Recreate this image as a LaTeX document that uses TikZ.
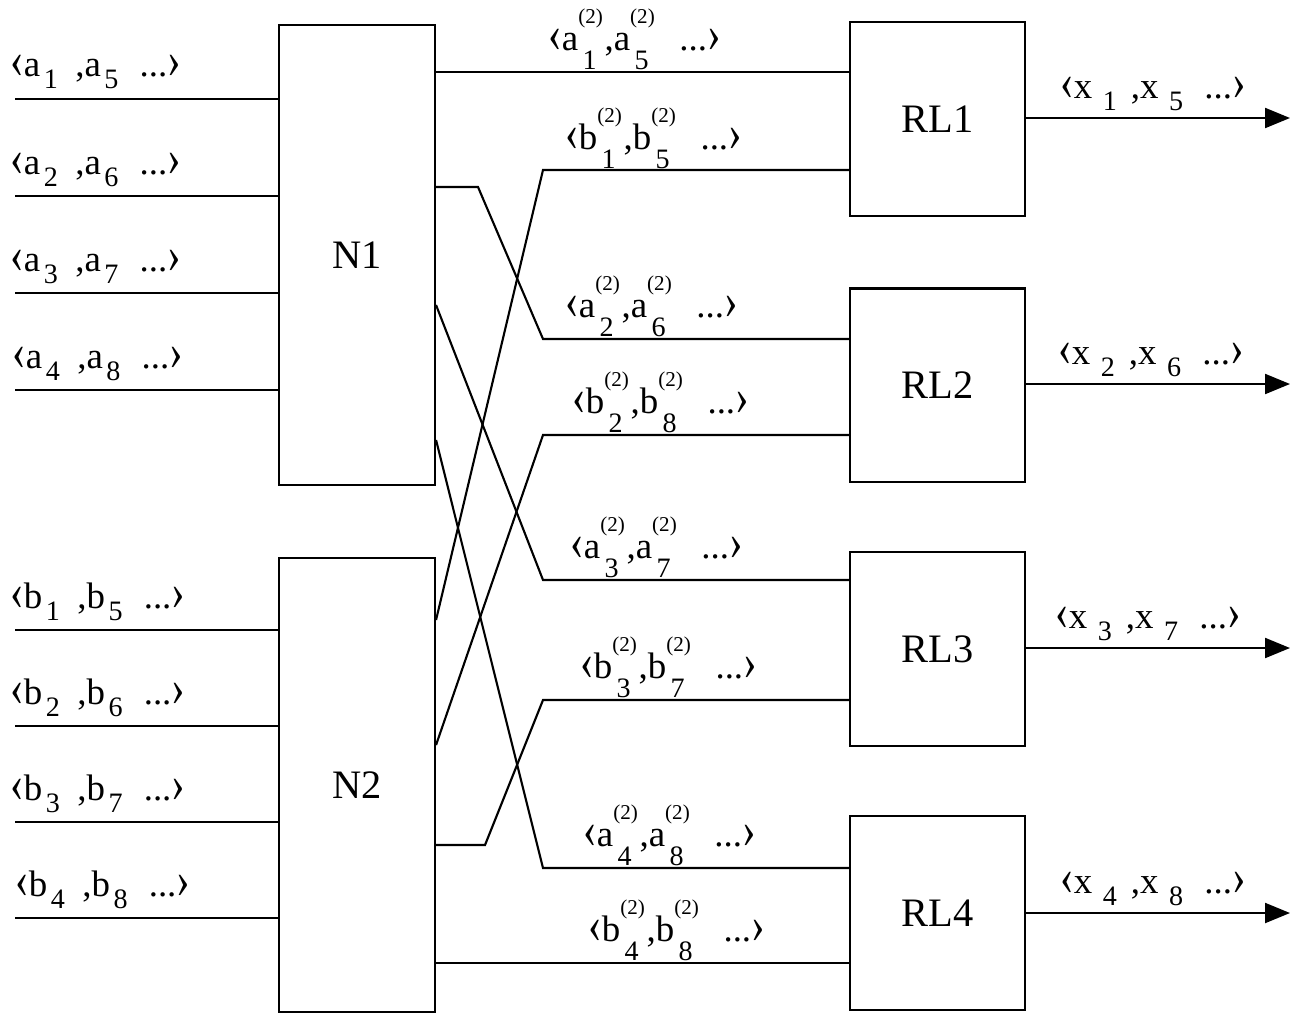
\documentclass[tikz,border=0pt]{standalone}
\usepackage{fontspec}
\setmainfont{Liberation Serif}
\usetikzlibrary{arrows.meta}
\newcommand{\subfont}{\fontsize{16}{16}\selectfont}
\newcommand{\supfont}{\fontsize{12}{12}\selectfont}
\newcommand{\lbr}{\raisebox{-1pt}{\scalebox{1.1}[1.45]{‹}}}
\newcommand{\rbr}{\raisebox{-1pt}{\scalebox{1.1}[1.45]{›}}}
\newcommand{\lowidx}[1]{\hspace{2pt}\raisebox{-7pt}{\subfont #1}}
\newcommand{\hiloidx}[1]{\rlap{\raisebox{15pt}{\supfont(2)}}\hbox to 13pt{\hss\raisebox{-11pt}{\subfont #1}\hss}}
\newcommand{\inseq}[3]{\lbr#1\lowidx{#2}\hspace{10pt},#1\lowidx{#3}\hspace{12pt}...\rbr}
\newcommand{\midseq}[3]{\lbr#1\hiloidx{#2}\hspace{2pt},#1\hiloidx{#3}\hspace{15pt}...\rbr}
\newcommand{\outseq}[3]{\lbr#1\hspace{4pt}\lowidx{#2}\hspace{8pt},#1\hspace{4pt}\lowidx{#3}\hspace{12pt}...\rbr}
\tikzstyle{nbox} = [rectangle, draw, line width=1.2pt, minimum width=3.12cm,
    font=\fontsize{23}{23}\selectfont]
\tikzstyle{rbox} = [rectangle, draw, line width=1.2pt, minimum width=3.5cm,
    minimum height=3.88cm, font=\fontsize{23}{23}\selectfont]
\tikzstyle{wire} = [draw, line width=1.2pt]
\tikzstyle{arr} = [draw, line width=1.2pt, -{Triangle[length=0.5cm,width=0.4cm]}]
\tikzstyle{lab} = [anchor=base west, inner sep=0pt, font=\fontsize{21}{21}\selectfont]
\begin{document}
\begin{tikzpicture}[x=0.02cm,y=-0.02cm]
    \useasboundingbox (0,0) rectangle (1290,1014);
    % Place nodes
    \node [nbox, minimum height=9.2cm] (N1) at (357,255) {N1};
    \node [nbox, minimum height=9.08cm, below of=N1, node distance=10.6cm] (N2) {N2};
    \node [rbox] (RL1) at (937.5,119) {RL1};
    \node [rbox, below of=RL1, node distance=5.33cm] (RL2) {RL2};
    \node [rbox, below of=RL2, node distance=5.28cm] (RL3) {RL3};
    \node [rbox, below of=RL3, node distance=5.27cm] (RL4) {RL4};
    % Input ends
    \coordinate (ina1) at (15,99);
    \coordinate (ina2) at (15,196);
    \coordinate (ina3) at (15,293);
    \coordinate (ina4) at (15,390);
    \coordinate (inb1) at (15,630);
    \coordinate (inb2) at (15,726);
    \coordinate (inb3) at (15,822);
    \coordinate (inb4) at (15,918);
    % Output ends
    \coordinate (outx1) at (1290,118);
    \coordinate (outx2) at (1290,384);
    \coordinate (outx3) at (1290,648);
    \coordinate (outx4) at (1290,913);
    % Draw edges
    \path [wire] (ina1) -- (ina1 -| N1.west);
    \path [wire] (ina2) -- (ina2 -| N1.west);
    \path [wire] (ina3) -- (ina3 -| N1.west);
    \path [wire] (ina4) -- (ina4 -| N1.west);
    \path [wire] (inb1) -- (inb1 -| N2.west);
    \path [wire] (inb2) -- (inb2 -| N2.west);
    \path [wire] (inb3) -- (inb3 -| N2.west);
    \path [wire] (inb4) -- (inb4 -| N2.west);
    \path [wire] (N1.east |- 0,72) -- (RL1.west |- 0,72);
    \path [wire] (N2.east |- 0,620) -- (543,170) -- (RL1.west |- 0,170);
    \path [wire] (N1.east |- 0,187) -- (478,187) -- (543,339) -- (RL2.west |- 0,339);
    \path [wire] (N2.east |- 0,745) -- (543,435) -- (RL2.west |- 0,435);
    \path [wire] (N1.east |- 0,305) -- (543,580) -- (RL3.west |- 0,580);
    \path [wire] (N2.east |- 0,845) -- (485,845) -- (543,700) -- (RL3.west |- 0,700);
    \path [wire] (N1.east |- 0,440) -- (543,868) -- (RL4.west |- 0,868);
    \path [wire] (N2.east |- 0,963) -- (RL4.west |- 0,963);
    \path [arr] (RL1.east |- outx1) -- (outx1);
    \path [arr] (RL2.east |- outx2) -- (outx2);
    \path [arr] (RL3.east |- outx3) -- (outx3);
    \path [arr] (RL4.east |- outx4) -- (outx4);
    % Labels
    \node [lab] (la1) at (10,76) {\inseq{a}{1}{5}};
    \node [lab] (la2) at (10,174) {\inseq{a}{2}{6}};
    \node [lab] (la3) at (10,271) {\inseq{a}{3}{7}};
    \node [lab] (la4) at (12,368) {\inseq{a}{4}{8}};
    \node [lab] (lb1) at (10,608) {\inseq{b}{1}{5}};
    \node [lab] (lb2) at (10,704) {\inseq{b}{2}{6}};
    \node [lab] (lb3) at (10,800) {\inseq{b}{3}{7}};
    \node [lab] (lb4) at (15,896) {\inseq{b}{4}{8}};
    \node [lab] (ma1) at (548,50) {\midseq{a}{1}{5}};
    \node [lab] (mb1) at (565,149) {\midseq{b}{1}{5}};
    \node [lab] (ma2) at (565,317) {\midseq{a}{2}{6}};
    \node [lab] (mb2) at (572,413) {\midseq{b}{2}{8}};
    \node [lab] (ma3) at (570,558) {\midseq{a}{3}{7}};
    \node [lab] (mb3) at (580,678) {\midseq{b}{3}{7}};
    \node [lab] (ma4) at (583,846) {\midseq{a}{4}{8}};
    \node [lab] (mb4) at (588,941) {\midseq{b}{4}{8}};
    \node [lab] (ox1) at (1060,98) {\outseq{x}{1}{5}};
    \node [lab] (ox2) at (1058,364) {\outseq{x}{2}{6}};
    \node [lab] (ox3) at (1055,628) {\outseq{x}{3}{7}};
    \node [lab] (ox4) at (1060,893) {\outseq{x}{4}{8}};
\end{tikzpicture}
\end{document}
